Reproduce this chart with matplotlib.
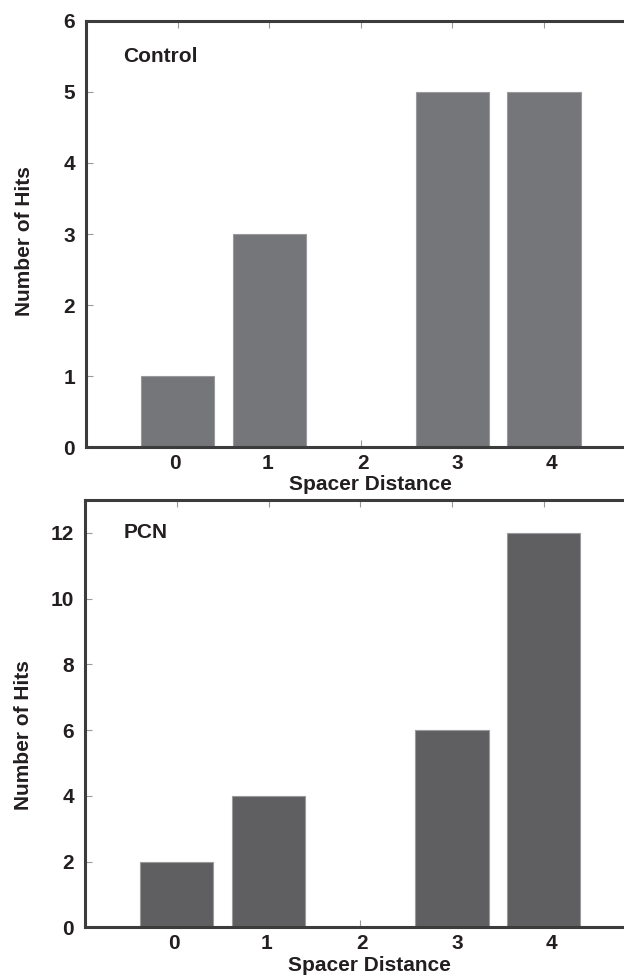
import matplotlib
matplotlib.use("Agg")
import matplotlib.pyplot as plt
from matplotlib.ticker import FixedLocator
from matplotlib.transforms import ScaledTranslation

plt.rcParams['font.family'] = ['Liberation Sans', 'DejaVu Sans']
plt.rcParams['font.weight'] = 'bold'

spacer = [0, 1, 2, 3, 4]
control_hits = [1, 3, 0, 5, 5]
pcn_hits = [2, 4, 0, 6, 12]
panel_names = ["Control", "PCN"]
xlabel = "Spacer Distance"
ylabel = "Number of Hits"

W, H = 624, 976
fig = plt.figure(figsize=(W / 100, H / 100), dpi=100)

def px_axes(left, right, top, bottom):
    return fig.add_axes([left / W, 1 - bottom / H, (right - left) / W, (bottom - top) / H])

ax1 = px_axes(86, 635.5, 20.7, 447.3)
ax2 = px_axes(85, 635.5, 500, 927.3)

spine_col = '#3c3c3c'
text_col = '#231f20'
label_shift_px = [-3, -2, 2, 5, 8]

def style(ax, values, color, ylim, yticks, name, name_xy, ylab_y):
    ax.bar(spacer, values, width=0.8, color=color, edgecolor='#9a9a9c', linewidth=0.8, zorder=2)
    ax.set_xlim(-1, 5)
    ax.set_ylim(*ylim)
    ax.yaxis.set_major_locator(FixedLocator(yticks))
    ax.set_xticks(spacer)
    for s in ['left', 'bottom', 'top']:
        ax.spines[s].set_linewidth(2.2)
        ax.spines[s].set_color(spine_col)
    ax.spines['right'].set_visible(False)
    ax.tick_params(axis='both', direction='in', length=5, width=0.8, color='#9a9a9a',
                   labelsize=15, labelcolor=text_col)
    ax.tick_params(axis='x', top=True, pad=5)
    ax.tick_params(axis='y', pad=8)
    for lbl in ax.get_xticklabels() + ax.get_yticklabels():
        lbl.set_fontweight('bold')
    for lbl, dx in zip(ax.get_xticklabels(), label_shift_px):
        lbl.set_transform(lbl.get_transform() + ScaledTranslation(dx / 100, 0, fig.dpi_scale_trans))
    ax.set_xlabel(xlabel, fontsize=15, fontweight='bold', color=text_col)
    ax.xaxis.set_label_coords(0.517, -0.066)
    ax.set_ylabel(ylabel, fontsize=15, fontweight='bold', color=text_col)
    ax.yaxis.set_label_coords(-0.094, ylab_y)
    ax.text(name_xy[0], name_xy[1], name, transform=ax.transAxes, fontsize=15,
            fontweight='bold', color=text_col, va='center', ha='left')

style(ax1, control_hits, '#75767a', (0, 6), [0, 1, 2, 3, 4, 5, 6], panel_names[0], (0.0673, 0.9156), 0.484)
style(ax2, pcn_hits, '#5f5f61', (0, 13), [0, 2, 4, 6, 8, 10, 12], panel_names[1], (0.0709, 0.9228), 0.45)

fig.savefig("out.png", dpi=100)
